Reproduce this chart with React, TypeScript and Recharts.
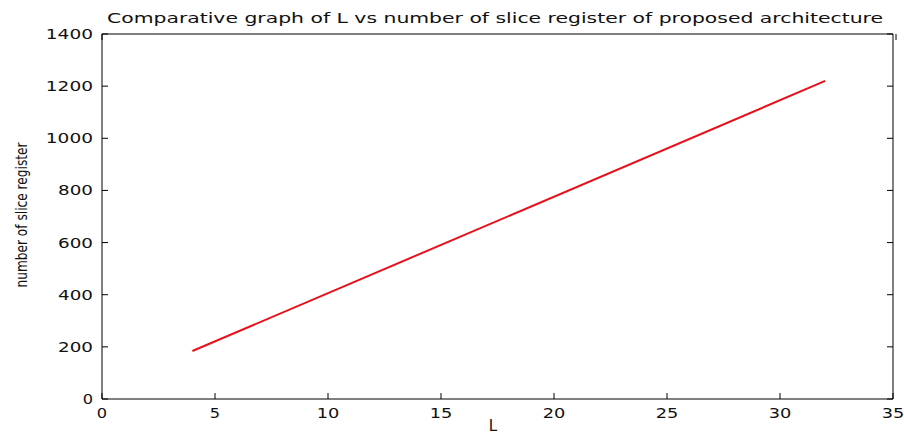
import { LineChart, Line, XAxis, YAxis } from "recharts"

// values
const lValues = [4, 32]
const sliceRegisters = [184, 1220]
const xTicks = [0, 5, 10, 15, 20, 25, 30, 35]
const yTicks = [0, 200, 400, 600, 800, 1000, 1200, 1400]

const data = lValues.map((l, i) => ({ L: l, reg: sliceRegisters[i] }))

const font = "'DejaVu Sans', sans-serif"
const TICK = 6
const CHAR_W = 12.3

// matlab-like wide digits, stretched to fit
function label(x: number, y: number, v: string, anchor: string, dy: string) {
  return (
    <text
      x={x}
      y={y}
      dy={dy}
      textAnchor={anchor}
      fontSize={14}
      fontFamily={font}
      fill="#111"
      textLength={v.length * CHAR_W - 2}
      lengthAdjust="spacingAndGlyphs"
    >
      {v}
    </text>
  )
}

const BottomTick = (props: any) => {
  const { x, y, payload } = props
  const ay = y - 14
  return (
    <g>
      <line x1={x} x2={x} y1={ay} y2={ay - TICK} stroke="#000" />
      {label(x, y, String(payload.value), "middle", "0.35em")}
    </g>
  )
}

const LeftTick = (props: any) => {
  const { x, y, payload } = props
  const ax = x + 9
  return (
    <g>
      <line x1={ax} x2={ax + TICK} y1={y} y2={y} stroke="#000" />
      {label(x, y, String(payload.value), "end", "0.36em")}
    </g>
  )
}

const TopTick = (props: any) => {
  const { x, y } = props
  return <line x1={x} x2={x} y1={y} y2={y + TICK} stroke="#000" />
}

const RightTick = (props: any) => {
  const { x, y } = props
  return <line x1={x} x2={x - TICK} y1={y} y2={y} stroke="#000" />
}

export default function App() {
  return (
    <div style={{ position: "absolute", top: 0, left: 0, width: 904, height: 434, background: "#fff" }}>
      <LineChart width={904} height={434} data={data} margin={{ top: 33, right: 10, bottom: 5, left: 42 }}>
        <XAxis
          xAxisId="b"
          dataKey="L"
          type="number"
          domain={[0, 35]}
          ticks={xTicks}
          height={30}
          tickSize={0}
          tickMargin={14}
          stroke="#000"
          tickLine={false}
          tick={<BottomTick />}
          allowDataOverflow
        />
        <XAxis
          xAxisId="t"
          orientation="top"
          type="number"
          domain={[0, 35]}
          ticks={xTicks}
          height={1}
          tickSize={0}
          tickMargin={0}
          stroke="#000"
          tickLine={false}
          tick={<TopTick />}
          allowDataOverflow
        />
        <YAxis
          yAxisId="l"
          type="number"
          domain={[0, 1400]}
          ticks={yTicks}
          width={60}
          tickSize={0}
          tickMargin={9}
          stroke="#000"
          tickLine={false}
          tick={<LeftTick />}
          allowDataOverflow
        />
        <YAxis
          yAxisId="r"
          orientation="right"
          type="number"
          domain={[0, 1400]}
          ticks={yTicks}
          width={1}
          tickSize={0}
          tickMargin={0}
          stroke="#000"
          tickLine={false}
          tick={<RightTick />}
          allowDataOverflow
        />
        <Line
          xAxisId="b"
          yAxisId="l"
          type="linear"
          dataKey="reg"
          stroke="#e8101a"
          strokeWidth={2}
          dot={false}
          isAnimationActive={false}
        />
      </LineChart>
      <svg width={904} height={434} style={{ position: "absolute", top: 0, left: 0, pointerEvents: "none" }}>
        <text
          x={495}
          y={23}
          textAnchor="middle"
          fontSize={14}
          fontFamily={font}
          fill="#111"
          textLength={776}
          lengthAdjust="spacingAndGlyphs"
        >
          Comparative graph of L vs number of slice register of proposed architecture
        </text>
        <text
          x={27}
          y={215}
          textAnchor="middle"
          fontSize={15}
          fontFamily={font}
          fill="#111"
          textLength={145}
          lengthAdjust="spacingAndGlyphs"
          transform="rotate(-90, 27, 215)"
        >
          number of slice register
        </text>
        <text x={493} y={431} textAnchor="middle" fontSize={15} fontFamily={font} fill="#111">
          L
        </text>
      </svg>
    </div>
  )
}
